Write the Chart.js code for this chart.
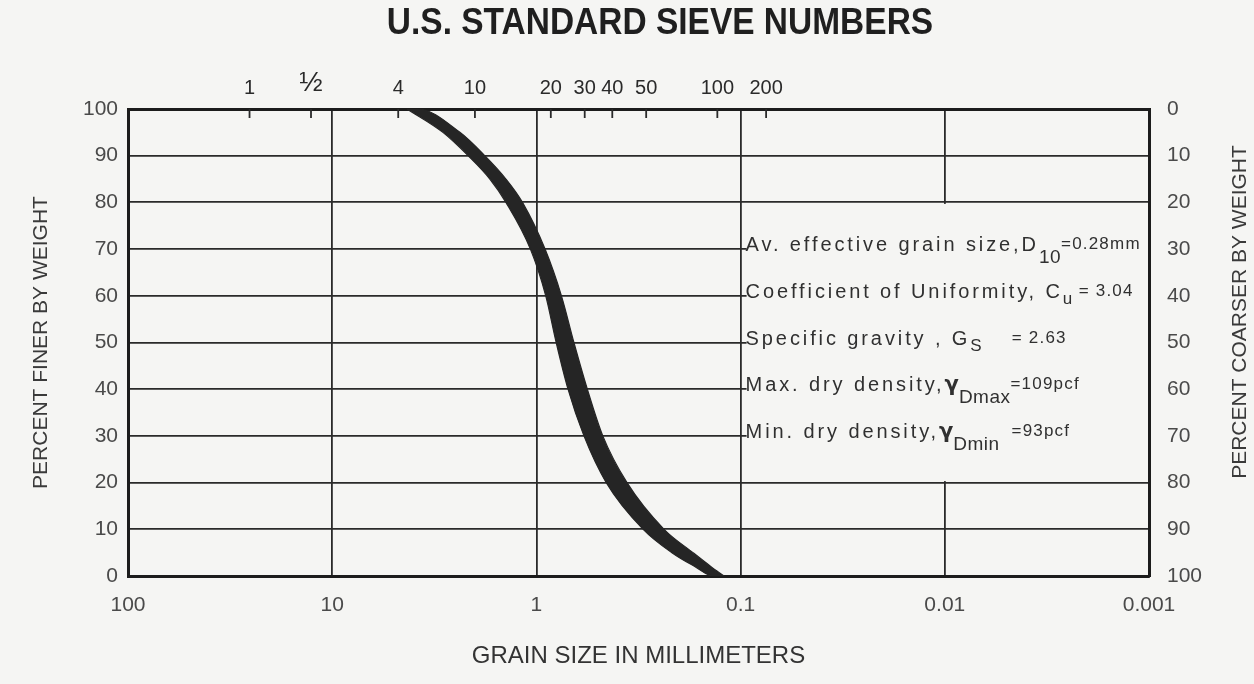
<!DOCTYPE html>
<html>
<head>
<meta charset="utf-8">
<script src="https://cdn.jsdelivr.net/npm/chart.js@4.4.1/dist/chart.umd.min.js"></script>
<style>
  body { margin: 0; background: #f5f5f3; }
  canvas { display: block; }
</style>
</head>
<body>
<canvas id="sieveChart" width="1254" height="684"></canvas>
<script>
// grain size axis (mm), decades only
const grainTicks = [100, 10, 1, 0.1, 0.01, 0.001];
const grainLabels = ["100", "10", "1", "0.1", "0.01", "0.001"];

// U.S. standard sieve openings (mm) along the top edge
const sieveSizes = [25.4, 12.7, 4.75, 2.0, 0.85, 0.58, 0.425, 0.29, 0.13, 0.075];
const sieveLabels = ["1", "½", "4", "10", "20", "30", "40", "50", "100", "200"];

// gradation band: upper (coarse) and lower (fine) edge, percent finer vs grain size
const coarsePercent = [100, 95, 90, 85, 80, 70, 60, 50, 40, 30, 20, 10, 5, 2, 0, 0];
const coarseEdge = [4.3, 2.87, 2.16, 1.69, 1.41, 1.07, 0.90, 0.80, 0.70, 0.585, 0.455, 0.30, 0.217, 0.167, 0.1365, 0.1206];
const finePercent = [100, 100, 95, 90, 85, 80, 70, 60, 50, 40, 30, 20, 10, 5, 2, 0];
const fineEdge = [4.3, 3.8, 2.37, 1.79, 1.41, 1.17, 0.907, 0.754, 0.655, 0.563, 0.473, 0.36, 0.237, 0.171, 0.1396, 0.1206];

// soil properties written in the blank panel
const notePercent = [70, 60, 50, 40, 30];
const noteLines = [
  [["Av. effective grain size,D", "main"], ["10", "sub"], ["=0.28mm", "val"]],
  [["Coefficient of Uniformity, C", "main"], ["u", "subsmall"], [" = 3.04", "val"]],
  [["Specific gravity , G", "main"], ["S", "subsmall"], ["     = 2.63", "val"]],
  [["Max. dry density,", "main"], ["γ", "greek"], ["Dmax", "sub"], ["=109pcf", "val"]],
  [["Min. dry density,", "main"], ["γ", "greek"], ["Dmin", "sub"], ["  =93pcf", "val"]],
];
const panelGrain = 0.1;
const panelTop = 80;
const panelBottom = 20;

const paper = "#f5f5f3";
const ink = "#2a2a2a";
const grey = "#4a4a4a";
const sans = "'Liberation Sans', Arial, sans-serif";

const coarsePoints = coarseEdge.map((d, i) => ({ x: d, y: coarsePercent[i] }));
const finePoints = fineEdge.map((d, i) => ({ x: d, y: finePercent[i] }));

const runStyles = {
  main: { font: "20px " + sans, dy: 0, spacing: 2.9 },
  sub: { font: "19px " + sans, dy: 12, spacing: 0.5 },
  subsmall: { font: "17px " + sans, dy: 6, spacing: 0.5 },
  val: { font: "17px " + sans, dy: -2, spacing: 1.2 },
  greek: { font: "bold 21px 'DejaVu Sans'", dy: 0, spacing: 0 },
};

const paperPlugin = {
  id: "paper",
  beforeDraw(chart) {
    const ctx = chart.ctx;
    ctx.save();
    ctx.fillStyle = paper;
    ctx.fillRect(0, 0, chart.width, chart.height);
    ctx.restore();
  },
};

const notesPlugin = {
  id: "notes",
  beforeDatasetsDraw(chart) {
    const { ctx, chartArea } = chart;
    const x = chart.scales.x;
    const y = chart.scales.y;
    const edge = x.getPixelForValue(panelGrain);
    const top = y.getPixelForValue(panelTop) + 1.5;
    const bottom = y.getPixelForValue(panelBottom) - 1.5;
    ctx.save();
    ctx.fillStyle = paper;
    ctx.fillRect(edge + 6, top, chartArea.right - 1 - (edge + 6), bottom - top);

    ctx.fillStyle = "#303030";
    ctx.textBaseline = "alphabetic";
    ctx.textAlign = "left";
    noteLines.forEach((runs, i) => {
      const base = y.getPixelForValue(notePercent[i]) + 2;
      let cx = edge + 5;
      runs.forEach(([text, kind]) => {
        const st = runStyles[kind];
        ctx.font = st.font;
        ctx.letterSpacing = st.spacing + "px";
        ctx.fillText(text, cx, base + st.dy);
        cx += ctx.measureText(text).width;
      });
    });
    ctx.letterSpacing = "0px";
    ctx.restore();
  },
  afterDatasetsDraw(chart) {
    const { ctx, chartArea } = chart;
    const top = chart.scales.x2;
    ctx.save();
    ctx.strokeStyle = ink;
    ctx.lineWidth = 1.8;
    sieveSizes.forEach((s) => {
      const px = top.getPixelForValue(s);
      ctx.beginPath();
      ctx.moveTo(px, chartArea.top);
      ctx.lineTo(px, chartArea.top + 9);
      ctx.stroke();
    });
    ctx.restore();
  },
  afterDraw(chart) {
    const ctx = chart.ctx;
    ctx.save();
    ctx.fillStyle = "#1f1f1f";
    ctx.textAlign = "center";
    ctx.textBaseline = "middle";
    ctx.font = "bold 36px " + sans;
    ctx.translate(660, 24);
    ctx.scale(0.93, 1);
    ctx.fillText("U.S. STANDARD SIEVE NUMBERS", 0, 0);
    ctx.restore();

    ctx.save();
    ctx.fillStyle = "#3a3a3a";
    ctx.textAlign = "center";
    ctx.textBaseline = "middle";
    ctx.font = "21px " + sans;
    ctx.translate(1240, 312);
    ctx.rotate(-Math.PI / 2);
    ctx.fillText("PERCENT COARSER BY WEIGHT", 0, 0);
    ctx.restore();
  },
};

const bandStyle = {
  xAxisID: "x",
  yAxisID: "y",
  borderColor: "#252525",
  backgroundColor: "#252525",
  borderWidth: 1.2,
  pointRadius: 0,
  cubicInterpolationMode: "monotone",
};

const ctx = document.getElementById("sieveChart").getContext("2d");
new Chart(ctx, {
  type: "line",
  data: {
    datasets: [
      { ...bandStyle, label: "coarse edge", data: coarsePoints, fill: "+1" },
      { ...bandStyle, label: "fine edge", data: finePoints, fill: false },
    ],
  },
  options: {
    responsive: false,
    animation: false,
    layout: { padding: 0 },
    plugins: {
      legend: { display: false },
      tooltip: { enabled: false },
      title: { display: false },
    },
    scales: {
      x: {
        type: "logarithmic",
        position: "bottom",
        reverse: true,
        min: 0.001,
        max: 100,
        afterBuildTicks: (s) => {
          s.ticks = grainTicks.map((v) => ({ value: v }));
        },
        afterFit: (s) => {
          s.height = 108;
        },
        ticks: {
          callback: (v, i) => grainLabels[i],
          autoSkip: false,
          maxRotation: 0,
          padding: 17,
          color: grey,
          font: { family: sans, size: 21 },
        },
        grid: { color: ink, lineWidth: 1.8, drawTicks: false },
        border: { display: true, color: "#1c1c1c", width: 3 },
        title: {
          display: true,
          text: "GRAIN SIZE IN MILLIMETERS",
          color: "#333",
          font: { family: sans, size: 24 },
          padding: { bottom: 13 },
        },
      },
      x2: {
        type: "logarithmic",
        position: "top",
        reverse: true,
        min: 0.001,
        max: 100,
        afterBuildTicks: (s) => {
          s.ticks = sieveSizes.map((v) => ({ value: v }));
        },
        afterFit: (s) => {
          s.height = 109;
        },
        ticks: {
          callback: (v, i) => sieveLabels[i],
          autoSkip: false,
          maxRotation: 0,
          padding: 9,
          color: "#2a2a2a",
          font: (c) => ({
            family: sans,
            size: c.index === 1 ? 28 : 20,
          }),
        },
        grid: { display: false, drawTicks: false },
        border: { display: true, color: "#1c1c1c", width: 3 },
      },
      y: {
        type: "linear",
        position: "left",
        min: 0,
        max: 100,
        afterFit: (s) => {
          s.width = 128;
        },
        ticks: {
          stepSize: 10,
          padding: 10,
          color: grey,
          font: { family: sans, size: 21 },
        },
        grid: { color: ink, lineWidth: 1.8, drawTicks: false },
        border: { display: true, color: "#1c1c1c", width: 3 },
        title: {
          display: true,
          text: "PERCENT FINER BY WEIGHT",
          color: "#3a3a3a",
          font: { family: sans, size: 21 },
          padding: { top: 29 },
        },
      },
      y2: {
        type: "linear",
        position: "right",
        reverse: true,
        min: 0,
        max: 100,
        afterFit: (s) => {
          s.width = 105;
        },
        ticks: {
          stepSize: 10,
          padding: 18,
          color: grey,
          font: { family: sans, size: 21 },
        },
        grid: { display: false, drawTicks: false },
        border: { display: true, color: "#1c1c1c", width: 3 },
      },
    },
  },
  plugins: [paperPlugin, notesPlugin],
});
</script>
</body>
</html>
